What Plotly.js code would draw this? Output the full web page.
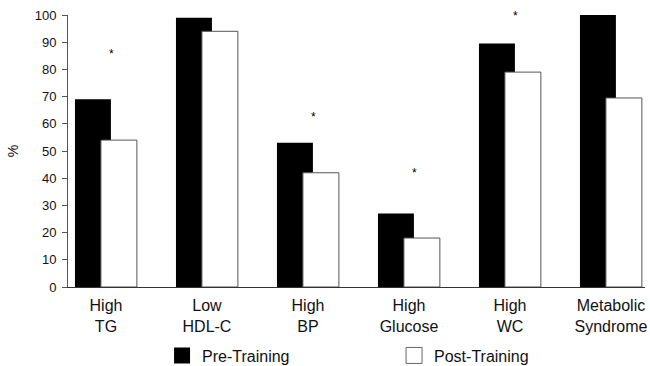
<!DOCTYPE html>
<html>
<head>
<meta charset="utf-8">
<script src="https://cdn.plot.ly/plotly-3.0.1.min.js"></script>
<style>html,body{margin:0;padding:0;background:#fff;}#chart{width:650px;height:366px;}</style>
</head>
<body>
<div id="chart"></div>
<script>
// Data
const categories = ["High<br>TG", "Low<br>HDL-C", "High<br>BP", "High<br>Glucose", "High<br>WC", "Metabolic<br>Syndrome"];
const preTraining = [69, 99, 53, 27, 89.5, 100];
const postTraining = [54, 94, 42, 18, 79, 69.5];
// significance markers (category index, height in %)
const starCategories = [0, 2, 3, 4];
const starHeights = [85.5, 62.5, 42, 99.5];

const FONT = "Liberation Sans, Arial, sans-serif";
const idx = categories.map((c, i) => i);

const traces = [
  {
    type: "bar", x: idx, y: preTraining, name: "Pre-Training",
    offset: -0.307, width: 0.356,
    marker: {color: "#000000", line: {width: 0}},
    showlegend: false, hoverinfo: "skip"
  },
  {
    type: "bar", x: idx, y: postTraining, name: "Post-Training",
    offset: -0.050, width: 0.356,
    marker: {color: "#ffffff", line: {width: 1, color: "#555555"}},
    showlegend: false, hoverinfo: "skip"
  },
  {
    type: "scatter", mode: "markers", x: [null], y: [null], name: "Pre-Training",
    marker: {symbol: "square", size: 16, color: "#000000", line: {width: 0}}
  },
  {
    type: "scatter", mode: "markers", x: [null], y: [null], name: "Post-Training",
    marker: {symbol: "square", size: 16, color: "#ffffff", line: {width: 1, color: "#666666"}}
  }
];

const annotations = starCategories.map((c, i) => ({
  x: c + 0.05, y: starHeights[i], xref: "x", yref: "y",
  text: "*", showarrow: false, font: {family: FONT, size: 12, color: "#000"},
  xanchor: "center", yanchor: "middle"
}));

const layout = {
  width: 650, height: 366,
  margin: {l: 68, r: 5, t: 15, b: 79, pad: 0, autoexpand: false},
  paper_bgcolor: "#fff", plot_bgcolor: "#fff",
  font: {family: FONT, color: "#111"},
  barmode: "overlay",
  xaxis: {
    range: [-0.376, 5.337],
    tickmode: "array", tickvals: idx, ticktext: categories,
    showline: true, linecolor: "#333", linewidth: 1,
    ticks: "", showgrid: false, zeroline: false,
    ticklabelstandoff: 4,
    tickfont: {family: FONT, size: 16, color: "#111"}
  },
  yaxis: {
    range: [0, 100], dtick: 10,
    showline: true, linecolor: "#555", linewidth: 1,
    ticks: "outside", ticklen: 5, tickcolor: "#555", tickwidth: 1,
    ticklabelstandoff: 3,
    showgrid: false, zeroline: false,
    tickfont: {family: FONT, size: 13, color: "#111"},
    title: {text: "%", font: {family: FONT, size: 14, color: "#111"}, standoff: 12}
  },
  showlegend: true,
  legend: {
    orientation: "h", x: 0.163, xanchor: "left", y: -0.252, yanchor: "middle",
    entrywidth: 187, entrywidthmode: "pixels",
    font: {family: FONT, size: 16, color: "#111"},
    bgcolor: "rgba(0,0,0,0)"
  },
  annotations: annotations
};

Plotly.newPlot("chart", traces, layout, {staticPlot: true, displayModeBar: false});
</script>
</body>
</html>
